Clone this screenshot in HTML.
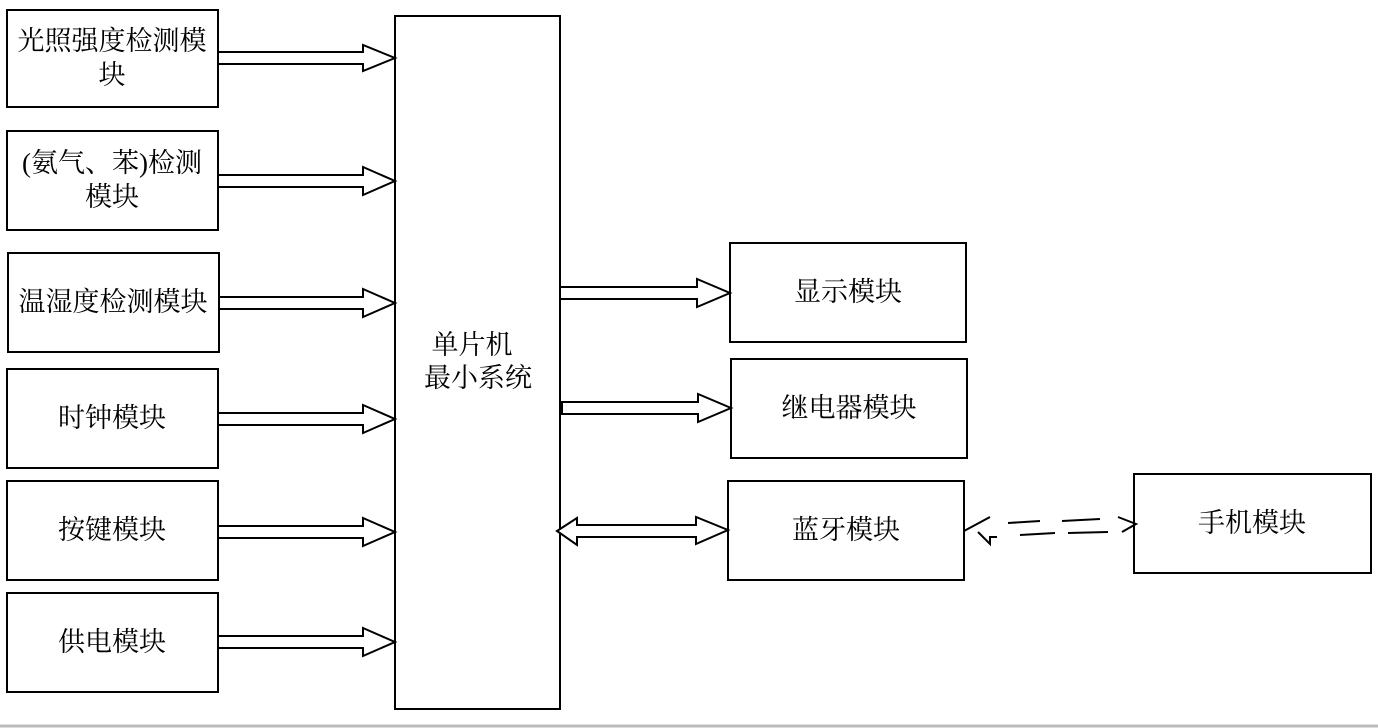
<!DOCTYPE html>
<html><head><meta charset="utf-8"><style>
html,body{margin:0;padding:0;background:#fff;width:1378px;height:728px;overflow:hidden}
svg text{font-family:"Liberation Serif","Noto Serif CJK SC",serif;font-size:27px;fill:#000}
</style></head><body>
<svg width="1378" height="728" viewBox="0 0 1378 728" xmlns="http://www.w3.org/2000/svg">
<g fill="#fff" stroke="#000" stroke-width="2">
<rect x="7" y="10" width="211" height="97"/>
<rect x="7" y="131" width="211" height="99"/>
<rect x="8" y="253" width="211" height="99"/>
<rect x="7" y="369" width="211" height="99"/>
<rect x="7" y="481" width="211" height="99"/>
<rect x="7" y="593" width="211" height="99"/>
<rect x="395" y="16" width="165" height="693"/>
<rect x="730" y="243" width="236" height="99"/>
<rect x="731" y="359" width="236" height="99"/>
<rect x="728" y="481" width="236" height="99"/>
<rect x="1134" y="474" width="237" height="99"/>
</g>
<g fill="#fff" stroke="#000" stroke-width="2" stroke-linejoin="miter">
<path d="M218,52 H363 V45 L395,58 L363,71 V64 H218 Z"/>
<path d="M218,175 H363 V167 L395,181 L363,195 V187 H218 Z"/>
<path d="M219,297 H363 V289 L395,303 L363,317 V309 H219 Z"/>
<path d="M218,413 H363 V405 L395,419 L363,433 V425 H218 Z"/>
<path d="M218,526 H363 V518 L395,532 L363,546 V538 H218 Z"/>
<path d="M218,636 H363 V628 L395,642 L363,656 V648 H218 Z"/>
<path d="M560,287 H697 V279 L730,293 L697,307 V299 H560 Z"/>
<path d="M562,402 H698 V394 L731,408 L698,422 V414 H562 Z"/>
<path d="M557,531 L577,518 V525 H696 V517 L728,530 L696,544 V537 H577 V545 Z"/>
</g>
<g fill="none" stroke="#000" stroke-width="2">
<path d="M964,531 L990,517"/>
<path d="M978,532 L990,544 V537 H997"/>
<path d="M1008,523 L1040,521 M1020,535 L1055,533 M1062,521 L1100,519 M1068,533 L1108,532"/>
<path d="M1118,517 L1136,524 L1122,532"/>
</g>
<line x1="0" y1="726" x2="1378" y2="726" stroke="#bbb" stroke-width="3"/>
<text x="112" y="50" text-anchor="middle">光照强度检测模</text>
<text x="112" y="84" text-anchor="middle">块</text>
<text x="112" y="172" text-anchor="middle">(氨气、苯)检测</text>
<text x="112" y="206" text-anchor="middle">模块</text>
<text x="113" y="311" text-anchor="middle">温湿度检测模块</text>
<text x="112" y="427" text-anchor="middle">时钟模块</text>
<text x="112" y="539" text-anchor="middle">按键模块</text>
<text x="112" y="651" text-anchor="middle">供电模块</text>
<text x="472" y="354" text-anchor="middle">单片机</text>
<text x="478" y="387" text-anchor="middle">最小系统</text>
<text x="848" y="301" text-anchor="middle">显示模块</text>
<text x="849" y="417" text-anchor="middle">继电器模块</text>
<text x="846" y="539" text-anchor="middle">蓝牙模块</text>
<text x="1252" y="532" text-anchor="middle">手机模块</text>
</svg>
</body></html>
